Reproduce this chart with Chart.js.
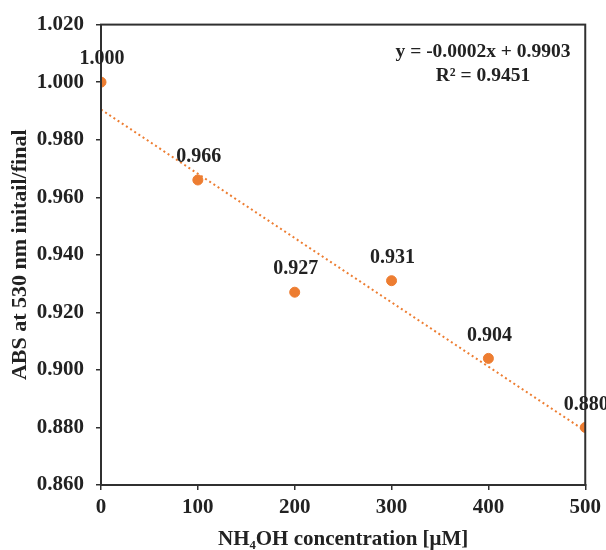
<!DOCTYPE html>
<html>
<head>
<meta charset="utf-8">
<script src="https://cdn.jsdelivr.net/npm/chart.js@4.4.1/dist/chart.umd.min.js"></script>
<style>
  html, body { margin: 0; padding: 0; background: #fff; }
  #wrap { width: 606px; height: 550px; position: relative; }
</style>
</head>
<body>
<div id="wrap"><canvas id="chart"></canvas></div>
<script>
// Data
const concentrations = [0, 100, 200, 300, 400, 500];
const absRatio = [1.000, 0.966, 0.927, 0.931, 0.904, 0.880];

// Linear trendline end points
const trendX = [0, 500];
const trendY = [0.9905, 0.8788];

const equationLines = ['y = -0.0002x + 0.9903', 'R² = 0.9451'];

const orange = '#ED7D31';
const axisColor = '#303030';
const serif = "'Liberation Serif', 'Times New Roman', serif";

const points = concentrations.map((x, i) => ({ x: x, y: absRatio[i] }));
const trendPoints = trendX.map((x, i) => ({ x: x, y: trendY[i] }));

// Point labels, box round the plot and the equation text
const annotate = {
  id: 'annotate',
  afterDatasetsDraw(chart) {
    const ctx = chart.ctx;
    const area = chart.chartArea;
    ctx.save();

    ctx.strokeStyle = axisColor;
    ctx.lineWidth = 2;
    ctx.strokeRect(area.left, area.top, area.right - area.left, area.bottom - area.top);

    ctx.fillStyle = '#222';
    ctx.font = 'bold 20px ' + serif;
    ctx.textAlign = 'center';
    ctx.textBaseline = 'middle';
    const meta = chart.getDatasetMeta(0);
    meta.data.forEach((el, i) => {
      ctx.fillText(absRatio[i].toFixed(3), el.x + 1, el.y - 23);
    });

    ctx.font = 'bold 19.5px ' + serif;
    ctx.fillText(equationLines[0], 483, 52);
    ctx.fillText(equationLines[1], 483, 76);
    ctx.restore();
  }
};

new Chart(document.getElementById('chart'), {
  type: 'scatter',
  data: {
    datasets: [
      {
        label: 'ABS',
        data: points,
        backgroundColor: orange,
        borderColor: orange,
        pointRadius: 5,
        pointHoverRadius: 5,
        order: 1
      },
      {
        label: 'Trend',
        type: 'line',
        data: trendPoints,
        borderColor: orange,
        borderWidth: 2,
        borderDash: [2, 3],
        pointRadius: 0,
        fill: false,
        order: 2
      }
    ]
  },
  options: {
    responsive: true,
    maintainAspectRatio: false,
    animation: false,
    layout: {
      padding: { left: 0, right: 19, top: 24, bottom: 0 }
    },
    plugins: {
      legend: { display: false },
      tooltip: { enabled: false }
    },
    scales: {
      x: {
        type: 'linear',
        min: 0,
        max: 500,
        afterFit: (scale) => { scale.height = 65; },
        border: { display: true, color: axisColor, width: 2 },
        grid: {
          drawOnChartArea: false,
          drawTicks: true,
          tickLength: 5,
          color: axisColor,
          lineWidth: 1.5
        },
        ticks: {
          stepSize: 100,
          color: '#222',
          padding: 5,
          font: { family: serif, size: 21, weight: 'bold' }
        },
        title: {
          display: true,
          text: 'NH\u2084OH concentration [\u03bcM]',
          color: '#222',
          padding: { top: 0, bottom: 0 },
          font: { family: serif, size: 21, weight: 'bold', lineHeight: 1 }
        }
      },
      y: {
        type: 'linear',
        min: 0.86,
        max: 1.02,
        afterFit: (scale) => { scale.width = 101; },
        border: { display: true, color: axisColor, width: 2 },
        grid: {
          drawOnChartArea: false,
          drawTicks: true,
          tickLength: 5,
          color: axisColor,
          lineWidth: 1.5
        },
        ticks: {
          stepSize: 0.02,
          color: '#222',
          padding: 12,
          font: { family: serif, size: 21, weight: 'bold' },
          callback: (value) => value.toFixed(3)
        },
        title: {
          display: true,
          text: 'ABS at 530 nm initail/final',
          color: '#222',
          padding: { top: 9, bottom: 0 },
          font: { family: serif, size: 22, weight: 'bold', lineHeight: 1 }
        }
      }
    }
  },
  plugins: [annotate]
});
</script>
</body>
</html>
